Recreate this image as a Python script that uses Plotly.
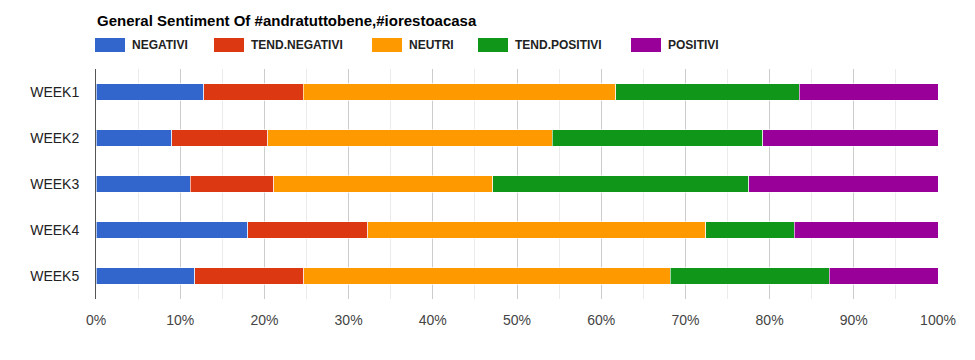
import plotly.graph_objects as go

weeks = ["WEEK1", "WEEK2", "WEEK3", "WEEK4", "WEEK5"]
series_names = ["NEGATIVI", "TEND.NEGATIVI", "NEUTRI", "TEND.POSITIVI", "POSITIVI"]
negativi = [12.8, 9.0, 11.2, 18.0, 11.7]
tend_negativi = [11.8, 11.4, 9.9, 14.3, 13.0]
neutri = [37.1, 33.8, 26.0, 40.1, 43.5]
tend_positivi = [21.8, 25.0, 30.4, 10.5, 18.9]
positivi = [16.5, 20.8, 22.5, 17.1, 12.9]
x_tick_values = [0, 10, 20, 30, 40, 50, 60, 70, 80, 90, 100]
x_tick_labels = ["0%", "10%", "20%", "30%", "40%", "50%", "60%", "70%", "80%", "90%", "100%"]

colors = ["#3366CC", "#DC3912", "#FF9900", "#109618", "#990099"]
values = [negativi, tend_negativi, neutri, tend_positivi, positivi]

W, H = 975, 360
L, R, T, B = 96, 37, 69, 61
PW, PH = W - L - R, H - T - B

def px_x(p):
    return (p - L) / PW

def px_y(p):
    return (H - B - p) / PH

fig = go.Figure()
for name, vals, col in zip(series_names, values, colors):
    fig.add_trace(go.Bar(
        y=weeks, x=vals, name=name, orientation="h",
        marker=dict(color=col, line=dict(color="rgba(255,255,255,0.6)", width=1)),
        showlegend=False,
    ))

FONT = "Liberation Sans, Arial, sans-serif"
annotations = [dict(
    text="<b>General Sentiment Of #andratuttobene,#iorestoacasa</b>",
    xref="paper", yref="paper", x=px_x(95), y=px_y(20.5),
    xanchor="left", yanchor="middle", showarrow=False,
    font=dict(family=FONT, size=15, color="#000000"),
)]
shapes = []
swatch_x = [95, 214, 372, 478, 631]
for name, col, sx in zip(series_names, colors, swatch_x):
    shapes.append(dict(
        type="rect", xref="paper", yref="paper",
        x0=px_x(sx), x1=px_x(sx + 30), y0=px_y(52), y1=px_y(38),
        fillcolor=col, line=dict(width=0), layer="above",
    ))
    annotations.append(dict(
        text="<b>" + name + "</b>", xref="paper", yref="paper",
        x=px_x(sx + 35), y=px_y(45), xanchor="left", yanchor="middle",
        showarrow=False, font=dict(family=FONT, size=12, color="#222222"),
    ))

fig.update_layout(
    width=W, height=H,
    margin=dict(l=L, r=R, t=T, b=B, pad=0, autoexpand=False),
    barmode="stack", bargap=0.65,
    plot_bgcolor="white", paper_bgcolor="white",
    font=dict(family=FONT, size=14, color="#222222"),
    annotations=annotations, shapes=shapes,
    xaxis=dict(
        range=[0, 100], tickmode="array", tickvals=x_tick_values, ticktext=x_tick_labels,
        showgrid=True, gridcolor="#cccccc", gridwidth=1,
        minor=dict(dtick=5, showgrid=True, gridcolor="#ebebeb"),
        zeroline=False, showline=False, ticks="",
        ticklabelstandoff=11,
        tickfont=dict(size=14, color="#444444"),
        fixedrange=True,
    ),
    yaxis=dict(
        autorange="reversed", showgrid=False, zeroline=False,
        showline=True, linecolor="#555555", linewidth=1,
        ticks="", ticklabelstandoff=13,
        tickfont=dict(size=14, color="#222222"),
        fixedrange=True,
    ),
)

fig.write_html("out.html", config={"displayModeBar": False},
               post_script="document.body.style.margin='0px';")
